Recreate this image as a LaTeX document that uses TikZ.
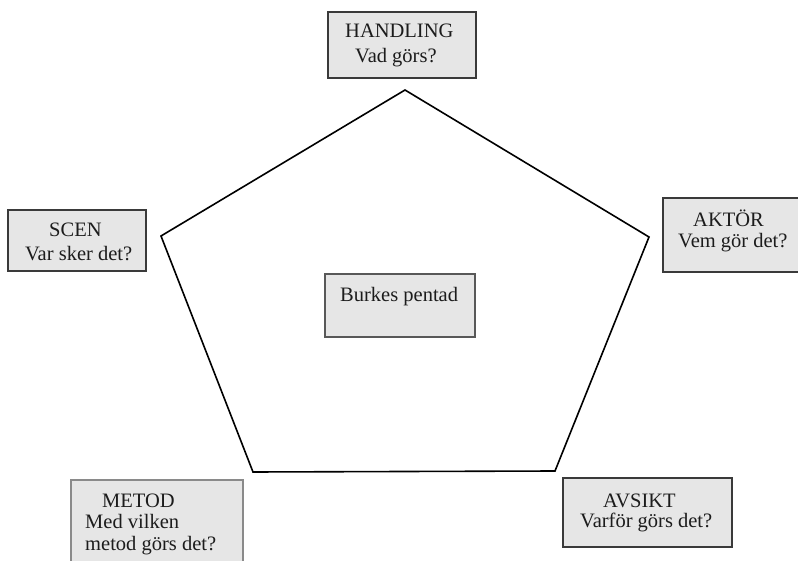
\documentclass[tikz,border=0pt]{standalone}
\usepackage{fontspec}
\setmainfont{Liberation Serif}
\definecolor{boxfill}{HTML}{E6E6E6}
\definecolor{boxline}{HTML}{3A3A3A}
\definecolor{boxlinelight}{HTML}{8A8A8A}
\definecolor{txt}{HTML}{1C1C1C}
\begin{document}
\begin{tikzpicture}[x=1pt,y=-1pt,
  box/.style={draw=boxline,line width=2pt,fill=boxfill},
  lbl/.style={anchor=base west,inner sep=0pt,text=txt,font=\fontsize{20.5}{24}\selectfont},
  pent/.style={draw=black,line width=1.6pt,line join=miter}]
\useasboundingbox (0,0) rectangle (798,561);
\clip (0,0) rectangle (798,561);
% pentagon
\coordinate (pA) at (405,90);
\coordinate (pB) at (649,237);
\coordinate (pC) at (555,471);
\coordinate (pD) at (253,472);
\coordinate (pE) at (161,236);
\draw[pent] (pA) -- (pB) -- (pC) -- (pD) -- (pE) -- cycle;
% boxes
\draw[box] (328,12) rectangle (476,78);
\draw[box] (663,198) rectangle (806,272);
\draw[box] (8,210) rectangle (146,271);
\draw[box,draw=boxline!85] (325,274) rectangle (475,337);
\draw[box,draw=boxlinelight] (71,480) rectangle (243,575);
\draw[box] (563,478) rectangle (732,547);
% texts
\node[lbl] (h1) at (345,38) {HANDLING};
\node[lbl] (h2) at (355,63) {Vad görs?};
\node[lbl] (a1) at (693,227) {AKTÖR};
\node[lbl] (a2) at (678,248) {Vem gör det?};
\node[lbl] (s1) at (49,237) {SCEN};
\node[lbl] (s2) at (25,261) {Var sker det?};
\node[lbl] (b1) at (340,302) {Burkes pentad};
\node[lbl] (m1) at (102,507) {METOD};
\node[lbl] (m2) at (85,528) {Med vilken};
\node[lbl] (m3) at (85,550) {metod görs det?};
\node[lbl] (v1) at (603,507) {AVSIKT};
\node[lbl] (v2) at (580,527) {Varför görs det?};
\end{tikzpicture}
\end{document}
